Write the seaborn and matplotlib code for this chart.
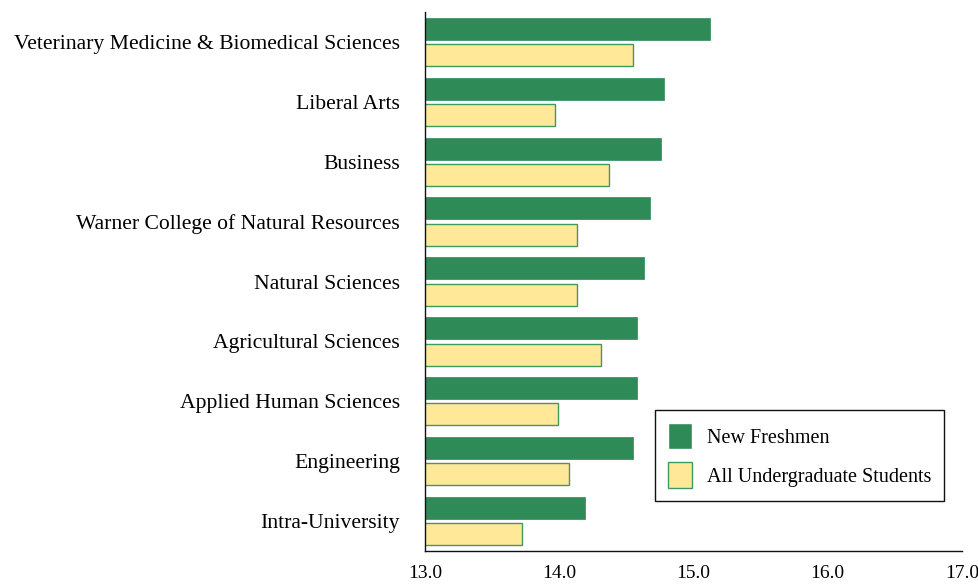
import matplotlib
matplotlib.use("Agg")
import matplotlib.pyplot as plt
import seaborn as sns
import pandas as pd

colleges = [
    "Veterinary Medicine & Biomedical Sciences",
    "Liberal Arts",
    "Business",
    "Warner College of Natural Resources",
    "Natural Sciences",
    "Agricultural Sciences",
    "Applied Human Sciences",
    "Engineering",
    "Intra-University",
]
new_freshmen = [15.12, 14.78, 14.76, 14.68, 14.63, 14.58, 14.58, 14.55, 14.19]
all_undergrad = [14.55, 13.97, 14.37, 14.13, 14.13, 14.31, 13.99, 14.07, 13.72]
series_names = ["New Freshmen", "All Undergraduate Students"]
x_ticks = [13.0, 14.0, 15.0, 16.0, 17.0]

df = pd.DataFrame({
    "College": colleges * 2,
    "Value": new_freshmen + all_undergrad,
    "Group": [series_names[0]] * len(colleges) + [series_names[1]] * len(colleges),
})

sns.set_style("white")
plt.rcParams["font.family"] = ["Liberation Serif", "DejaVu Serif"]
plt.rcParams["text.color"] = "black"
plt.rcParams["xtick.color"] = "black"
plt.rcParams["ytick.color"] = "black"

green = "#2E8B57"
yellow = "#FFE897"
yedge = "#3E9A62"

fig = plt.figure(figsize=(9.79, 5.86), dpi=100)
ax = fig.add_axes([0.434, 0.0597, 0.5486, 0.9198])

sns.barplot(data=df, y="College", x="Value", hue="Group", orient="h",
            palette=[green, yellow], saturation=1, width=0.88, gap=0.166, ax=ax,
            order=colleges, hue_order=series_names, legend=True)

for c, container in enumerate(ax.containers):
    for p in container:
        if c == 0:
            p.set_edgecolor(green)
            p.set_linewidth(0.5)
        else:
            p.set_edgecolor(yedge)
            p.set_linewidth(1.0)

ax.set_xlim(13.0, 17.0)
ax.set_ylim(8.5, -0.5)
ax.set_xticks(x_ticks)
ax.set_xticklabels([f"{v:.1f}" for v in x_ticks], fontsize=14, color="black")
for t in ax.get_yticklabels():
    t.set_color("black")
ax.tick_params(axis="y", labelsize=15.6, length=0, pad=18)
ax.tick_params(axis="x", length=0, pad=10)
ax.set_xlabel("")
ax.set_ylabel("")
for s in ["top", "right"]:
    ax.spines[s].set_visible(False)
for s in ["left", "bottom"]:
    ax.spines[s].set_color("#111111")
    ax.spines[s].set_linewidth(1.0)

handles, labels = ax.get_legend_handles_labels()
leg = ax.legend(handles, labels, loc="lower right", bbox_to_anchor=(0.9665, 0.0928),
                fontsize=14.5, frameon=True, fancybox=False, edgecolor="#111111",
                framealpha=1, borderaxespad=0,
                handlelength=1.2, handleheight=1.6, borderpad=0.65, labelspacing=0.65,
                handletextpad=0.7, labelcolor="black")
leg.get_frame().set_linewidth(1.0)
leg.legend_handles[0].set_facecolor(green)
leg.legend_handles[1].set_facecolor(yellow)
leg.legend_handles[1].set_edgecolor(yedge)
leg.legend_handles[1].set_linewidth(1.0)

fig.savefig("out.png", dpi=100)
